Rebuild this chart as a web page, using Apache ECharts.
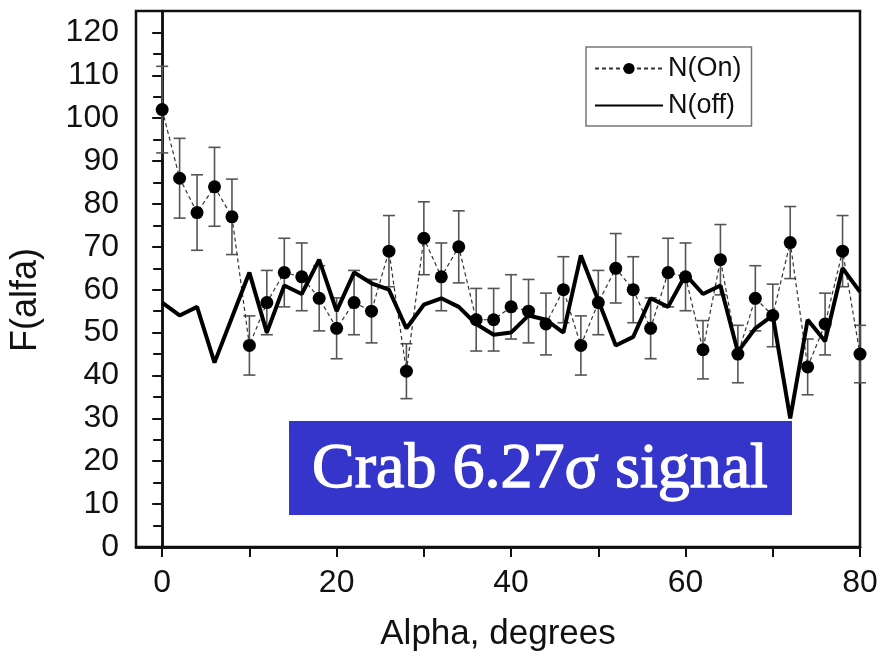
<!DOCTYPE html>
<html><head><meta charset="utf-8">
<script src="https://cdn.jsdelivr.net/npm/echarts@6/dist/echarts.min.js"></script>
<style>html,body{margin:0;padding:0;background:#fff}#c{width:894px;height:663px}</style>
</head><body><div id="c"></div>
<script>
const alpha = [0,2,4,6,8,10,12,14,16,18,20,22,24,26,28,30,32,34,36,38,40,42,44,46,48,50,52,54,56,58,60,62,64,66,68,70,72,74,76,78,80];
const nOn = [102,86,78,84,77,47,57,64,63,58,51,57,55,69,41,72,63,70,53,53,56,55,52,60,47,57,65,60,51,64,63,46,67,45,58,54,71,42,52,69,45];
const nOnErr = [10.1,9.3,8.8,9.2,8.8,6.9,7.5,8.0,7.9,7.6,7.1,7.5,7.4,8.3,6.4,8.5,7.9,8.4,7.3,7.3,7.5,7.4,7.2,7.7,6.9,7.5,8.1,7.7,7.1,8.0,7.9,6.8,8.2,6.7,7.6,7.3,8.4,6.5,7.2,8.3,6.7];
const nOff = [57,54,56,43,53.5,64,50,61,59,67,55,64,61.5,60,51,56.5,58,56,52,49.5,50,54,53,50,68,57.5,47,49,58,56,63.5,59,61,45.5,51,54,30,53,48,65,59.5];
const yLabelTicks = [0,10,20,30,40,50,60,70,80,90,100,110,120];
const yMinorTicks = [5,15,25,35,45,55,65,75,85,95,105,115];
const xLabelTicks = [0,20,40,60,80];
const xMinorTicks = [10,30,50,70];
const xAllTicks = [0,10,20,30,40,50,60,70,80];
const yAllTicks = [0,5,10,15,20,25,30,35,40,45,50,55,60,65,70,75,80,85,90,95,100,105,110,115,120];

const onData = alpha.map((a,i)=>[a,nOn[i]]);
const offData = alpha.map((a,i)=>[a,nOff[i]]);
const errData = alpha.map((a,i)=>[a,nOn[i]-nOnErr[i],nOn[i]+nOnErr[i]]);

const axisLine = {show:true, lineStyle:{color:'#111', width:2.5}};
const font = 'Liberation Sans, Arial, sans-serif';

const chart = echarts.init(document.getElementById('c'));
chart.setOption({
  animation:false,
  backgroundColor:'#fff',
  grid:{left:134, right:34, top:11, bottom:116, show:true, borderColor:'#111', borderWidth:2.5},
  legend:{
    data:[{name:'N(On)', itemStyle:{}}, {name:'N(off)', itemStyle:{opacity:0}}],
    orient:'vertical', left:586, top:47,
    itemWidth:68, itemHeight:14, itemGap:10,
    borderColor:'#777', borderWidth:1.5, padding:[8,10,7,8],
    textStyle:{fontSize:27, fontFamily:font, color:'#111'}
  },
  xAxis:[
    {type:'value', min:-3, max:80, position:'bottom',
     axisLine:axisLine, splitLine:{show:false},
     axisTick:{show:true, inside:false, length:10, customValues:xAllTicks, lineStyle:{color:'#111',width:2}},
     axisLabel:{customValues:xLabelTicks, margin:20, fontSize:32, fontFamily:font, color:'#111'},
     name:'Alpha, degrees', nameLocation:'middle', nameGap:70,
     nameTextStyle:{fontSize:35, fontFamily:font, color:'#111'}},
    {type:'value', min:-3, max:80, position:'top',
     axisLine:axisLine, splitLine:{show:false}, axisLabel:{show:false},
     axisTick:{show:true, inside:true, length:10, customValues:xLabelTicks, lineStyle:{color:'#111',width:2}}},
    {type:'value', min:-3, max:80, position:'top',
     axisLine:{show:false}, splitLine:{show:false}, axisLabel:{show:false},
     axisTick:{show:true, inside:true, length:5, customValues:xMinorTicks, lineStyle:{color:'#111',width:2}}}
  ],
  yAxis:[
    {type:'value', min:0, max:125, position:'left',
     axisLine:axisLine, splitLine:{show:false},
     axisTick:{show:true, inside:false, length:10, customValues:yLabelTicks, lineStyle:{color:'#111',width:2}},
     axisLabel:{customValues:yLabelTicks, margin:17, fontSize:32, fontFamily:font, color:'#111'},
     name:'F(alfa)', nameLocation:'middle', nameGap:92,
     nameTextStyle:{fontSize:36, fontFamily:font, color:'#111', padding:[0,42,0,0]}},
    {type:'value', min:0, max:125, position:'left',
     axisLine:{show:false}, splitLine:{show:false}, axisLabel:{show:false},
     axisTick:{show:true, inside:false, length:6, customValues:yMinorTicks, lineStyle:{color:'#111',width:2}}},
    {type:'value', min:0, max:125, position:'right',
     axisLine:axisLine, splitLine:{show:false}, axisLabel:{show:false},
     axisTick:{show:true, inside:true, length:9, customValues:yAllTicks, lineStyle:{color:'#111',width:2}}}
  ],
  series:[
    {type:'custom', name:'err', xAxisIndex:0, yAxisIndex:0, z:2,
     data:errData,
     renderItem:function(params, api){
       const x = api.value(0);
       const lo = api.coord([x, api.value(1)]);
       const hi = api.coord([x, api.value(2)]);
       const w = 6;
       const st = {stroke:'#555', lineWidth:1.6};
       return {type:'group', children:[
         {type:'line', shape:{x1:lo[0],y1:lo[1],x2:hi[0],y2:hi[1]}, style:st},
         {type:'line', shape:{x1:lo[0]-w,y1:lo[1],x2:lo[0]+w,y2:lo[1]}, style:st},
         {type:'line', shape:{x1:hi[0]-w,y1:hi[1],x2:hi[0]+w,y2:hi[1]}, style:st}
       ]};
     }},
    {type:'line', name:'N(On)', xAxisIndex:0, yAxisIndex:0, z:3, data:onData,
     symbol:'circle', symbolSize:13, showAllSymbol:true,
     itemStyle:{color:'#000'},
     lineStyle:{color:'#333', width:1.2, type:[4,3]}},
    {type:'line', name:'N(off)', xAxisIndex:0, yAxisIndex:0, z:4, data:offData,
     symbol:'none', itemStyle:{color:'#000'},
     lineStyle:{color:'#000', width:4}}
  ],
  graphic:[
    {type:'rect', z:100, shape:{x:289, y:421, width:503, height:94}, style:{fill:'#3535CC'}},
    {type:'text', z:101, x:540, y:470,
     style:{text:'Crab 6.27σ signal', fill:'#fff', fontSize:64, fontFamily:'"Liberation Serif", "DejaVu Serif", serif', fontWeight:'normal', align:'center', verticalAlign:'middle', stroke:'#fff', lineWidth:1.3}}
  ]
});
</script></body></html>
